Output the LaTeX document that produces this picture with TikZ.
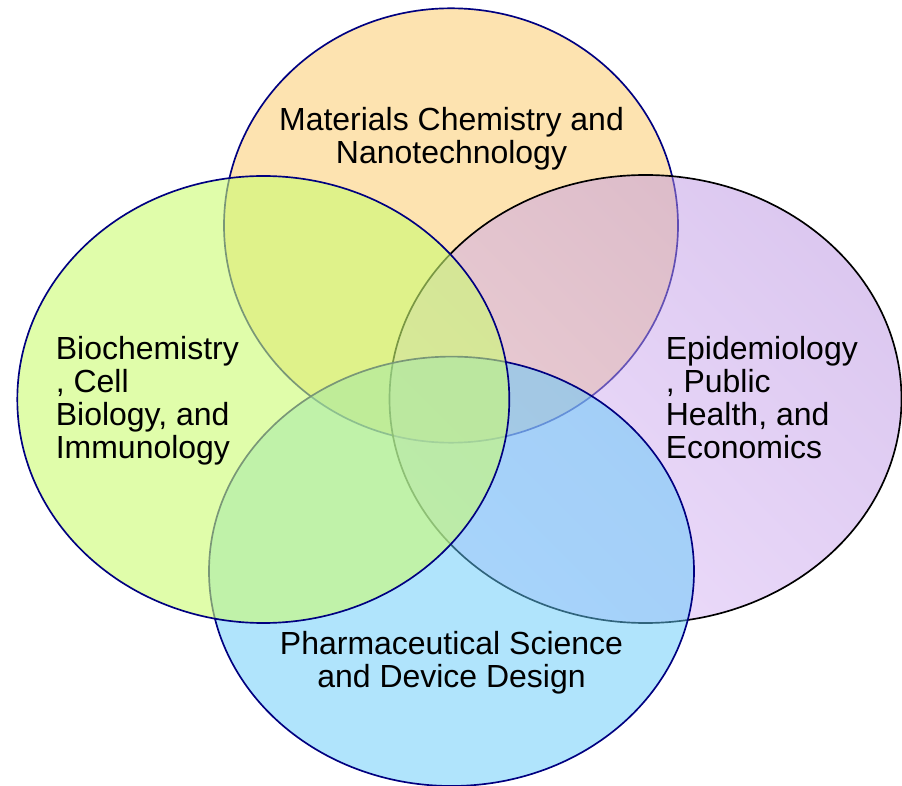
\documentclass[tikz,border=0pt]{standalone}
\usepackage{fontspec}
\setmainfont{Liberation Sans}
\usepackage{tikz}
\definecolor{rimblue}{RGB}{0,0,128}
\definecolor{matfill}{RGB}{253,227,176}
\definecolor{biofill}{RGB}{203,252,113}
\definecolor{epidark}{RGB}{185,145,225}
\definecolor{epilight}{RGB}{221,189,249}
\definecolor{pharmfill}{RGB}{97,201,249}

\begin{document}
\begin{tikzpicture}[line width=0.95pt, x=0.02cm, y=-0.02cm]
\tikzstyle{every node} = [inner sep=0cm, font=\fontsize{18.2}{18.8}\selectfont]
\useasboundingbox (0,0) rectangle (902,786);
% four fields, back to front
\draw[rimblue, fill=matfill] (451,225.5) ellipse (227 and 217.2);
\draw[black, top color=epilight, bottom color=epidark, shading angle=135, fill opacity=0.5] (645.5,399) ellipse (256 and 224);
\draw[rimblue, fill=pharmfill, fill opacity=0.5] (451.5,571.3) ellipse (242.5 and 214.7);
\draw[rimblue, fill=biofill, fill opacity=0.6] (263.3,399.5) ellipse (246 and 223.5);
% labels
\node[align=center] (mat) at (451.5,138.5) {Materials Chemistry and\\Nanotechnology};
\node[align=left, anchor=west] (bio) at (55,401) {Biochemistry\\, Cell\\Biology, and\\Immunology};
\node[align=left, anchor=west] (epi) at (665,398) {Epidemiology\\, Public\\Health, and\\Economics};
\node[align=center] (pharm) at (451.5,663) {Pharmaceutical Science\\and Device Design};
\end{tikzpicture}
\end{document}
